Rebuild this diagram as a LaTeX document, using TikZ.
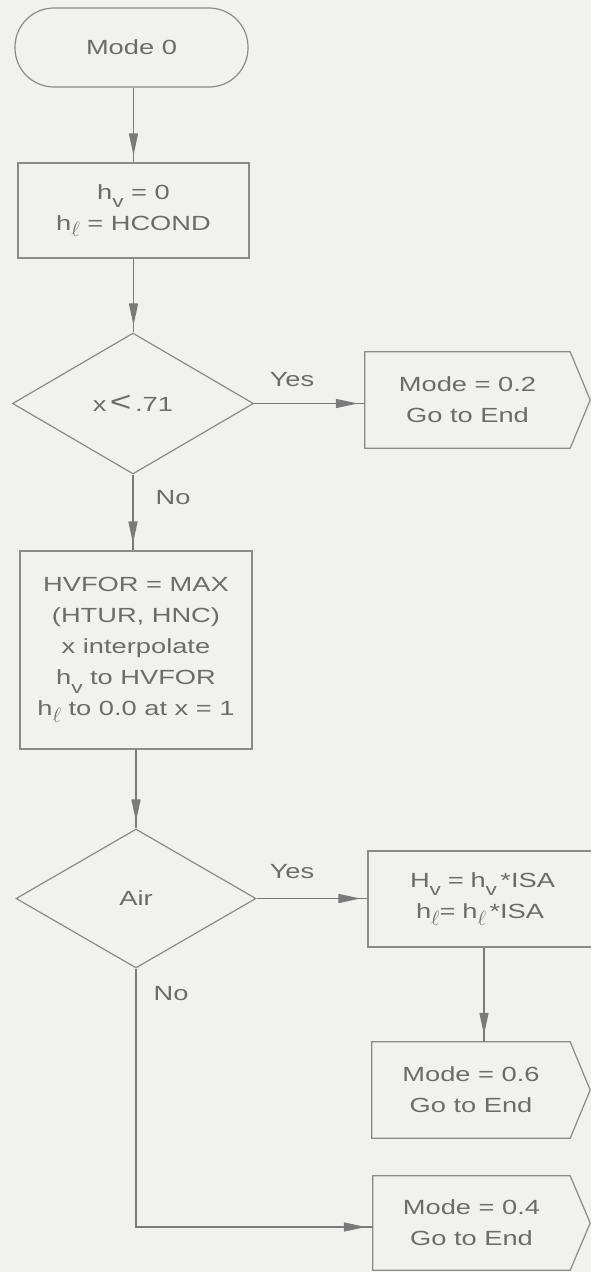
\documentclass[tikz,border=0pt]{standalone}
\usepackage{fontspec}
\setmainfont{Liberation Sans}[FakeStretch=1.33]
\usetikzlibrary{shapes.geometric,arrows.meta,decorations.markings}
\definecolor{ink}{HTML}{6C6C6C}
\definecolor{edgec}{HTML}{8A8A8A}
\definecolor{flowc}{HTML}{7A7A7A}
\definecolor{paper}{HTML}{F1F1EF}
\newcommand{\sbv}{\raisebox{-0.75ex}{\fontsize{17}{17}\selectfont v}}
\newcommand{\sbl}{\raisebox{-0.6ex}{\fontsize{20}{20}\selectfont$\ell$}}
\tikzset{
  txt/.style={text=ink, font=\fontsize{20.5}{31}\selectfont, align=center, inner sep=0pt},
  procbox/.style={txt, draw=edgec, line width=1.2pt},
  termbox/.style={procbox, rounded corners=39pt},
  decbox/.style={txt, draw=edgec, line width=1.2pt, diamond},
  endbox/.style={txt},
  outline/.style={draw=edgec, line width=1.2pt},
  flow/.style={draw=flowc, line width=1.5pt, postaction=decorate,
    decoration={markings, mark=at position -7pt with {\arrow{Triangle[length=22pt,width=9pt,color=flowc]}}}},
  lbl/.style={txt}
}
\begin{document}
\begin{tikzpicture}[x=1pt,y=-1pt]
\useasboundingbox (0,0) rectangle (591,1272);
\clip (0,0) rectangle (591,1272);
\fill[paper] (0,0) rectangle (591,1272);

\node[termbox, minimum width=233pt, minimum height=79pt] (m0) at (131.5,47.5) {Mode 0};
\node[procbox, minimum width=231pt, minimum height=95pt] (b1) at (133.5,210.5)
  {h\sbv\ = 0\\h\sbl\ = HCOND};
\node[decbox, minimum width=241pt, minimum height=141pt] (d1) at (133,403.5) {x\,{\fontsize{28}{28}\selectfont<}\,.71};
\node[endbox, minimum width=205pt, minimum height=96pt] (m2) at (467.5,400) {Mode = 0.2\\Go to End};
\draw[outline] (m2.north west) -- (m2.north east) -- ([xshift=20pt]m2.east) -- (m2.south east) -- (m2.south west) -- cycle;

\node[procbox, minimum width=232pt, minimum height=198pt] (b2) at (136,650)
  {HVFOR = MAX\\(HTUR, HNC)\\x interpolate\\h\sbv\ to HVFOR\\h\sbl\ to 0.0 at x = 1};
\node[decbox, minimum width=240pt, minimum height=139pt] (d2) at (136,898.5) {Air};
\node[procbox, minimum width=232pt, minimum height=96pt, text width=232pt, align=left] (hb) at (484,899)
  {\hspace*{42pt}H\sbv\ = h\sbv\,*ISA\\\hspace*{48pt}h\sbl= h\sbl\,*ISA};
\node[endbox, minimum width=198pt, minimum height=96pt] (m6) at (471,1090) {Mode = 0.6\\Go to End};
\draw[outline] (m6.north west) -- (m6.north east) -- ([xshift=20pt]m6.east) -- (m6.south east) -- (m6.south west) -- cycle;
\node[endbox, minimum width=197pt, minimum height=94pt] (m4) at (471.5,1223) {Mode = 0.4\\Go to End};
\draw[outline] (m4.north west) -- (m4.north east) -- ([xshift=20pt]m4.east) -- (m4.south east) -- (m4.south west) -- cycle;

\node[lbl] (y1) at (292,380) {Yes};
\node[lbl] (n1) at (173,498) {No};
\node[lbl] (y2) at (292,872) {Yes};
\node[lbl] (n2) at (171,994) {No};

\draw[flow] (m0.south -| b1.north) -- (b1.north);
\draw[flow] (b1.south) -- (b1.south |- d1.north);
\draw[flow] (d1.east) -- (d1.east -| m2.west);
\draw[flow] (d1.south) -- (d1.south |- b2.north);
\draw[flow] (b2.south) -- (b2.south |- d2.north);
\draw[flow] (d2.east) -- (d2.east -| hb.west);
\draw[flow] (hb.south) -- (hb.south |- m6.north);
\draw[flow] (d2.south) -- (d2.south |- 0,1227) -- (m4.west |- 0,1227);
\end{tikzpicture}
\end{document}
